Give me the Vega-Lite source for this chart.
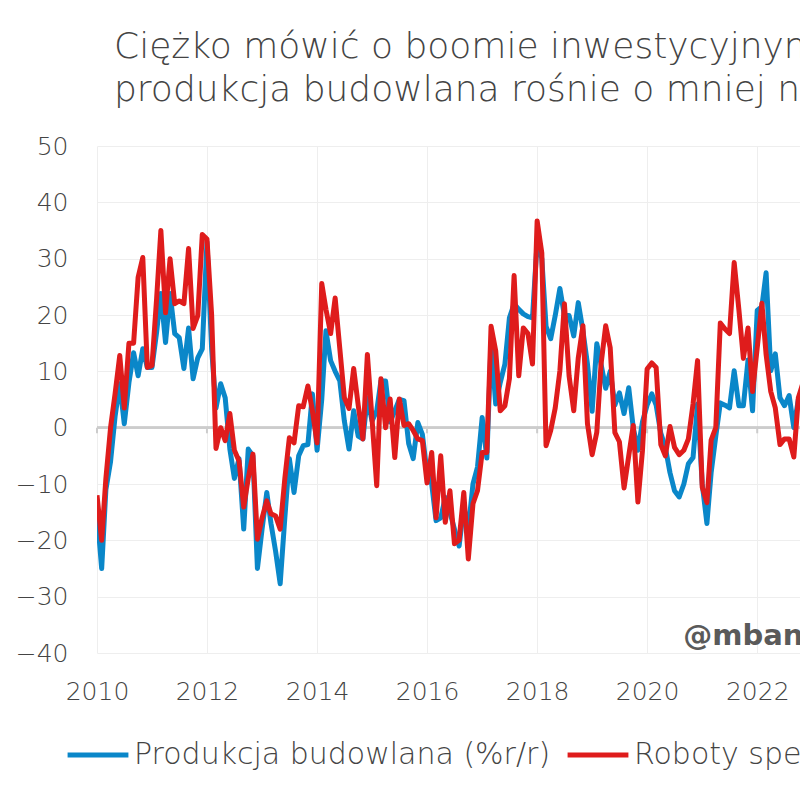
{
  "$schema": "https://vega.github.io/schema/vega-lite/v6.json",
  "width": 703,
  "height": 507,
  "autosize": {"type": "none"},
  "padding": {"left": 97, "top": 146, "right": 0, "bottom": 147},
  "background": "#ffffff",
  "config": {
    "view": {"stroke": null},
    "font": "DejaVu Sans",
    "axis": {"labelFont": "DejaVu Sans", "labelFontWeight": 200, "labelColor": "#444444", "labelFontSize": 25, "domain": false, "ticks": false, "gridColor": "#eeeeee", "gridWidth": 1, "title": null}
  },
  "title": {
    "text": ["Ciężko mówić o boomie inwestycyjnym,", "produkcja budowlana rośnie o mniej niż"],
    "anchor": "start",
    "frame": "group",
    "align": "left",
    "dx": 17,
    "offset": 25,
    "fontSize": 36,
    "fontWeight": 200,
    "font": "DejaVu Sans",
    "color": "#444444",
    "lineHeight": 43
  },
  "datasets": {
    "series": [
      {"d":"2010-01-01","p":-15,"r":-12},
      {"d":"2010-02-01","p":-25,"r":-20},
      {"d":"2010-03-01","p":-11,"r":-9},
      {"d":"2010-04-01","p":-6,"r":0},
      {"d":"2010-05-01","p":2,"r":6},
      {"d":"2010-06-01","p":7.8,"r":12.8},
      {"d":"2010-07-01","p":0.7,"r":3.5},
      {"d":"2010-08-01","p":8,"r":15},
      {"d":"2010-09-01","p":13.3,"r":15},
      {"d":"2010-10-01","p":9.2,"r":26.7},
      {"d":"2010-11-01","p":14,"r":30.2},
      {"d":"2010-12-01","p":10.7,"r":10.7},
      {"d":"2011-01-01","p":10.7,"r":11},
      {"d":"2011-02-01","p":17,"r":23},
      {"d":"2011-03-01","p":23.8,"r":35},
      {"d":"2011-04-01","p":15.1,"r":20.4},
      {"d":"2011-05-01","p":23.8,"r":30},
      {"d":"2011-06-01","p":16.7,"r":22},
      {"d":"2011-07-01","p":16,"r":22.5},
      {"d":"2011-08-01","p":10.5,"r":22},
      {"d":"2011-09-01","p":17.7,"r":31.8},
      {"d":"2011-10-01","p":8.7,"r":17.6},
      {"d":"2011-11-01","p":12.4,"r":19.9},
      {"d":"2011-12-01","p":14,"r":34.3},
      {"d":"2012-01-01","p":33,"r":33.5},
      {"d":"2012-02-01","p":14,"r":20},
      {"d":"2012-03-01","p":3.5,"r":-3.7},
      {"d":"2012-04-01","p":7.8,"r":0},
      {"d":"2012-05-01","p":5.3,"r":-2.3},
      {"d":"2012-06-01","p":-3.8,"r":2.5},
      {"d":"2012-07-01","p":-9,"r":-4},
      {"d":"2012-08-01","p":-5.5,"r":-5.9},
      {"d":"2012-09-01","p":-18,"r":-14.1},
      {"d":"2012-10-01","p":-3.8,"r":-9},
      {"d":"2012-11-01","p":-5,"r":-4.7},
      {"d":"2012-12-01","p":-25,"r":-19.8},
      {"d":"2013-01-01","p":-18,"r":-16},
      {"d":"2013-02-01","p":-11.5,"r":-13},
      {"d":"2013-03-01","p":-17,"r":-15.3},
      {"d":"2013-04-01","p":-22,"r":-15.7},
      {"d":"2013-05-01","p":-27.7,"r":-18},
      {"d":"2013-06-01","p":-16,"r":-9},
      {"d":"2013-07-01","p":-5.5,"r":-1.8},
      {"d":"2013-08-01","p":-11.5,"r":-2.7},
      {"d":"2013-09-01","p":-5,"r":3.9},
      {"d":"2013-10-01","p":-3.2,"r":3.7},
      {"d":"2013-11-01","p":-3,"r":7.4},
      {"d":"2013-12-01","p":6,"r":3},
      {"d":"2014-01-01","p":-4,"r":-2.7},
      {"d":"2014-02-01","p":5,"r":25.6},
      {"d":"2014-03-01","p":17.2,"r":21},
      {"d":"2014-04-01","p":11.9,"r":16.7},
      {"d":"2014-05-01","p":10,"r":23},
      {"d":"2014-06-01","p":8.3,"r":14},
      {"d":"2014-07-01","p":1.2,"r":5.3},
      {"d":"2014-08-01","p":-3.8,"r":3.4},
      {"d":"2014-09-01","p":3,"r":10.5},
      {"d":"2014-10-01","p":-1.5,"r":4},
      {"d":"2014-11-01","p":-2,"r":-2},
      {"d":"2014-12-01","p":5.3,"r":13},
      {"d":"2015-01-01","p":1.2,"r":1.5},
      {"d":"2015-02-01","p":3,"r":-10.3},
      {"d":"2015-03-01","p":8.3,"r":8.7},
      {"d":"2015-04-01","p":8.3,"r":0},
      {"d":"2015-05-01","p":1,"r":5.1},
      {"d":"2015-06-01","p":3,"r":-5.3},
      {"d":"2015-07-01","p":5,"r":5.1},
      {"d":"2015-08-01","p":4.8,"r":0.4},
      {"d":"2015-09-01","p":-2.8,"r":0.7},
      {"d":"2015-10-01","p":-5.5,"r":-0.5},
      {"d":"2015-11-01","p":0.9,"r":-2},
      {"d":"2015-12-01","p":-1.2,"r":-2.3},
      {"d":"2016-01-01","p":-8,"r":-9.8},
      {"d":"2016-02-01","p":-10,"r":-4.4},
      {"d":"2016-03-01","p":-16.5,"r":-16},
      {"d":"2016-04-01","p":-16,"r":-5},
      {"d":"2016-05-01","p":-12.4,"r":-16.8},
      {"d":"2016-06-01","p":-15,"r":-11.2},
      {"d":"2016-07-01","p":-18,"r":-20.6},
      {"d":"2016-08-01","p":-21,"r":-20},
      {"d":"2016-09-01","p":-14,"r":-11.5},
      {"d":"2016-10-01","p":-18,"r":-23.3},
      {"d":"2016-11-01","p":-10,"r":-13.5},
      {"d":"2016-12-01","p":-7,"r":-11.2},
      {"d":"2017-01-01","p":1.8,"r":-4.4},
      {"d":"2017-02-01","p":-5.4,"r":-4.4},
      {"d":"2017-03-01","p":15,"r":18},
      {"d":"2017-04-01","p":4.2,"r":13.6},
      {"d":"2017-05-01","p":8,"r":3},
      {"d":"2017-06-01","p":11.3,"r":3.9},
      {"d":"2017-07-01","p":19.5,"r":8.7},
      {"d":"2017-08-01","p":22,"r":27},
      {"d":"2017-09-01","p":21,"r":9.2},
      {"d":"2017-10-01","p":20.2,"r":17.7},
      {"d":"2017-11-01","p":19.7,"r":16.7},
      {"d":"2017-12-01","p":19.5,"r":11.3},
      {"d":"2018-01-01","p":33,"r":36.7},
      {"d":"2018-02-01","p":30,"r":31},
      {"d":"2018-03-01","p":18,"r":-3.2},
      {"d":"2018-04-01","p":15.8,"r":-0.5},
      {"d":"2018-05-01","p":19.9,"r":3.5},
      {"d":"2018-06-01","p":24.7,"r":10.1},
      {"d":"2018-07-01","p":19.9,"r":22},
      {"d":"2018-08-01","p":19.9,"r":9.2},
      {"d":"2018-09-01","p":16.3,"r":3},
      {"d":"2018-10-01","p":22.2,"r":12.4},
      {"d":"2018-11-01","p":17.2,"r":18.1},
      {"d":"2018-12-01","p":11.3,"r":0.7},
      {"d":"2019-01-01","p":2.9,"r":-4.8},
      {"d":"2019-02-01","p":14.9,"r":-0.8},
      {"d":"2019-03-01","p":11.3,"r":11.2},
      {"d":"2019-04-01","p":7,"r":18.1},
      {"d":"2019-05-01","p":10,"r":14.2},
      {"d":"2019-06-01","p":4,"r":-0.9},
      {"d":"2019-07-01","p":6.2,"r":-2.5},
      {"d":"2019-08-01","p":2.5,"r":-10.7},
      {"d":"2019-09-01","p":7.1,"r":-5},
      {"d":"2019-10-01","p":0,"r":0.4},
      {"d":"2019-11-01","p":-4,"r":-13.2},
      {"d":"2019-12-01","p":1,"r":-4.1},
      {"d":"2020-01-01","p":4,"r":10.4},
      {"d":"2020-02-01","p":6,"r":11.5},
      {"d":"2020-03-01","p":4,"r":10.7},
      {"d":"2020-04-01","p":-1,"r":-3},
      {"d":"2020-05-01","p":-3.5,"r":-5},
      {"d":"2020-06-01","p":-8,"r":0.2},
      {"d":"2020-07-01","p":-11.2,"r":-3.5},
      {"d":"2020-08-01","p":-12.3,"r":-4.8},
      {"d":"2020-09-01","p":-10,"r":-4},
      {"d":"2020-10-01","p":-6.4,"r":-2},
      {"d":"2020-11-01","p":-5.3,"r":4.2},
      {"d":"2020-12-01","p":4.2,"r":11.9},
      {"d":"2021-01-01","p":-10,"r":-10.6},
      {"d":"2021-02-01","p":-17,"r":-13.3},
      {"d":"2021-03-01","p":-8,"r":-2.2},
      {"d":"2021-04-01","p":-1.5,"r":0},
      {"d":"2021-05-01","p":4.4,"r":18.6},
      {"d":"2021-06-01","p":4,"r":17.5},
      {"d":"2021-07-01","p":3.5,"r":16.7},
      {"d":"2021-08-01","p":10.1,"r":29.3},
      {"d":"2021-09-01","p":3.9,"r":21},
      {"d":"2021-10-01","p":3.9,"r":12.3},
      {"d":"2021-11-01","p":12,"r":17.7},
      {"d":"2021-12-01","p":3,"r":6.4},
      {"d":"2022-01-01","p":20.8,"r":14.2},
      {"d":"2022-02-01","p":21.5,"r":22.1},
      {"d":"2022-03-01","p":27.5,"r":13},
      {"d":"2022-04-01","p":10.1,"r":6.4},
      {"d":"2022-05-01","p":13.1,"r":3.5},
      {"d":"2022-06-01","p":5.3,"r":-3},
      {"d":"2022-07-01","p":3.9,"r":-2},
      {"d":"2022-08-01","p":5.7,"r":-2},
      {"d":"2022-09-01","p":0,"r":-5.2},
      {"d":"2022-10-01","p":5,"r":5.3},
      {"d":"2022-11-01","p":6,"r":8},
      {"d":"2022-12-01","p":4,"r":5}
    ],
    "ticks": [
      {"d":"2010-01-01"},{"d":"2012-01-01"},{"d":"2014-01-01"},{"d":"2016-01-01"},
      {"d":"2018-01-01"},{"d":"2020-01-01"},{"d":"2022-01-01"}
    ],
    "mark": [{"t":"@mbank_research"}]
  },
  "layer": [
    {
      "data": {"name": "ticks"},
      "mark": {"type": "rule", "color": "#cccccc", "strokeWidth": 2},
      "encoding": {
        "x": {
          "field": "d", "type": "temporal",
          "scale": {"type": "utc", "domain": [{"year":2010,"month":1,"date":1,"utc":true},{"year":2022,"month":10,"date":12,"utc":true}]},
          "axis": {
            "values": [{"year":2010,"month":1,"date":1,"utc":true},{"year":2012,"month":1,"date":1,"utc":true},{"year":2014,"month":1,"date":1,"utc":true},{"year":2016,"month":1,"date":1,"utc":true},{"year":2018,"month":1,"date":1,"utc":true},{"year":2020,"month":1,"date":1,"utc":true},{"year":2022,"month":1,"date":1,"utc":true},{"year":2024,"month":1,"date":1,"utc":true}],
            "format": "%Y", "labelFlush": false, "labelPadding": 26, "grid": true, "orient": "bottom"
          }
        },
        "y": {"datum": 0, "type": "quantitative",
          "scale": {"domain": [-40, 50], "nice": false, "zero": false},
          "axis": {"values": [-40,-30,-20,-10,0,10,20,30,40,50], "labelPadding": 29, "grid": true}
        },
        "y2": {"datum": -1}
      }
    },
    {
      "data": {"name": "ticks"},
      "mark": {"type": "rule", "color": "#cccccc", "strokeWidth": 2},
      "encoding": {"y": {"datum": 0, "type": "quantitative"}}
    },
    {
      "data": {"name": "series"},
      "transform": [{"fold": ["p", "r"], "as": ["s", "v"]}],
      "mark": {"type": "line", "strokeWidth": 5, "strokeJoin": "round", "clip": true},
      "encoding": {
        "x": {"field": "d", "type": "temporal"},
        "y": {"field": "v", "type": "quantitative"},
        "color": {
          "field": "s", "type": "nominal",
          "scale": {"domain": ["p", "r"], "range": ["#0a87c9", "#df1c1c"]},
          "legend": {
            "title": null, "orient": "none", "direction": "horizontal",
            "legendX": -32, "legendY": 576,
            "symbolType": "stroke", "symbolSize": 3700, "symbolStrokeWidth": 5,
            "labelFontSize": 30, "labelFont": "DejaVu Sans", "labelFontWeight": 200, "labelColor": "#444444",
            "labelLimit": 1000, "labelOffset": 3, "columnPadding": 6,
            "labelExpr": "datum.value == 'p' ? 'Produkcja budowlana (%r/r)' : 'Roboty specjalistyczne (%r/r)'"
          }
        }
      }
    },
    {
      "data": {"name": "mark"},
      "mark": {"type": "text", "align": "left", "baseline": "middle", "fontSize": 29, "fontWeight": "bold", "font": "DejaVu Sans", "color": "#5a5a5a"},
      "encoding": {
        "x": {"datum": {"year": 2020, "month": 8, "date": 28, "utc": true}, "type": "temporal"},
        "y": {"datum": -37, "type": "quantitative"},
        "text": {"field": "t"}
      }
    }
  ]
}
